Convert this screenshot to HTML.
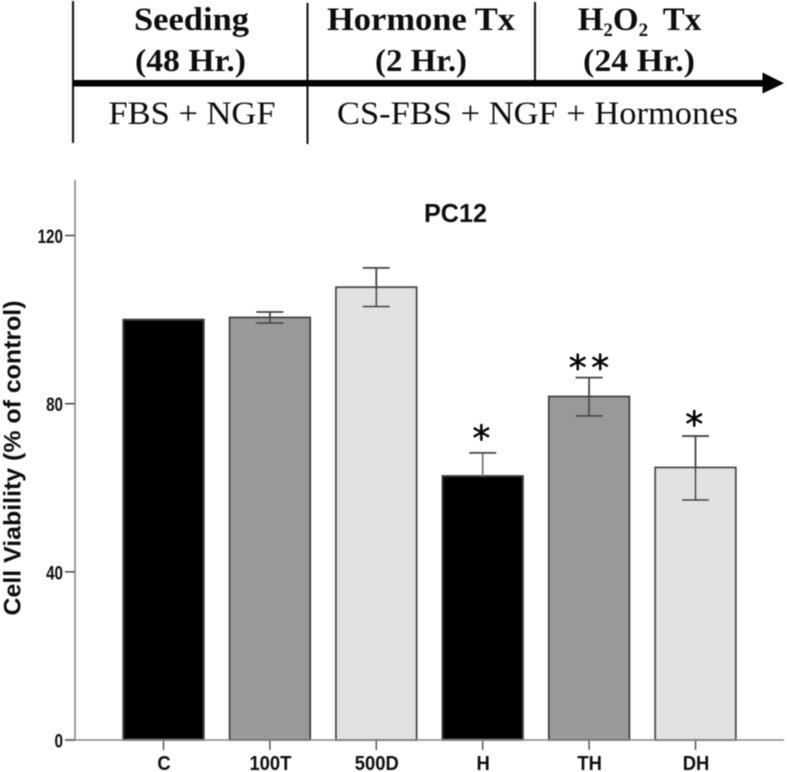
<!DOCTYPE html>
<html>
<head>
<meta charset="utf-8">
<title>PC12 cell viability</title>
<style>
html,body{margin:0;padding:0;background:#fff;}
svg{display:block;}
</style>
</head>
<body>
<svg id="fig" xmlns="http://www.w3.org/2000/svg" width="787" height="772" viewBox="0 0 787 772">
  <defs><filter id="soft" x="-5%" y="-5%" width="110%" height="110%"><feGaussianBlur stdDeviation="0.5"/></filter></defs>
  <rect width="787" height="772" fill="#fff"/>
  <g id="root" filter="url(#soft)">
    <g>
      <line x1="73" y1="1" x2="73" y2="143" stroke="#111" stroke-width="2"/>
      <line x1="307.5" y1="3" x2="307.5" y2="144" stroke="#111" stroke-width="2"/>
      <line x1="535" y1="2" x2="535" y2="80" stroke="#111" stroke-width="2"/>
      <rect x="73" y="80" width="694" height="6.5" fill="#000"/>
      <polygon points="762.5,72.5 784,83.3 762.5,93.5" fill="#000"/>
      <g font-family="'Liberation Serif',serif" fill="#111" text-anchor="middle">
        <text x="191.5" y="30" font-size="33" font-weight="bold" textLength="115" lengthAdjust="spacingAndGlyphs">Seeding</text>
        <text x="190.5" y="71" font-size="32" font-weight="bold" textLength="111" lengthAdjust="spacingAndGlyphs">(48 Hr.)</text>
        <text x="421" y="30" font-size="33" font-weight="bold" textLength="188" lengthAdjust="spacingAndGlyphs">Hormone Tx</text>
        <text x="421" y="71" font-size="32" font-weight="bold" textLength="92" lengthAdjust="spacingAndGlyphs">(2 Hr.)</text>
        <text x="639.5" y="30" font-size="33" font-weight="bold">H<tspan font-size="19" dy="6">2</tspan><tspan dy="-6">O</tspan><tspan font-size="19" dy="6">2</tspan><tspan dy="-6" dx="7"> Tx</tspan></text>
        <text x="639" y="71" font-size="32" font-weight="bold" textLength="112" lengthAdjust="spacingAndGlyphs">(24 Hr.)</text>
        <text x="192" y="124" font-size="33" textLength="167" lengthAdjust="spacingAndGlyphs">FBS + NGF</text>
        <text x="537.5" y="124" font-size="33" textLength="401" lengthAdjust="spacingAndGlyphs">CS-FBS + NGF + Hormones</text>
      </g>
    </g>
    <g id="chart">
      <text x="455.5" y="222" font-family="'Liberation Sans',sans-serif" font-size="26" font-weight="bold" text-anchor="middle" fill="#111" textLength="63" lengthAdjust="spacingAndGlyphs">PC12</text>
      <text transform="translate(20.5,458) rotate(-90)" font-family="'Liberation Sans',sans-serif" font-size="24" font-weight="bold" text-anchor="middle" fill="#111" textLength="315" lengthAdjust="spacingAndGlyphs">Cell Viability (% of control)</text>
    </g>
  </g>
</svg>
<script>
const categories = ['C', '100T', '500D', 'H', 'TH', 'DH'];
const viability = [100, 100.5, 107.7, 62.8, 81.7, 64.8];
const errorHigh = [100, 101.8, 112.3, 68.3, 86.2, 72.3];
const errorLow = [100, 99.2, 103.1, 57.3, 77.1, 57.1];
const significance = ['', '', '', '*', '**', '*'];
const significanceLevel = [0, 0, 0, 73.3, 90, 76.6];
const yTickLabels = [0, 40, 80, 120];
const barColors = ['#000000', '#999999', '#e2e2e2'];

const NS = 'http://www.w3.org/2000/svg';
const chart = document.getElementById('chart');
const yScale = v => 740 - v * 4.204;
const xCenter = i => 163.5 + i * 106.4;
const barWidth = 80.5;

function make(tag, attrs, parent) {
  const el = document.createElementNS(NS, tag);
  for (const k in attrs) el.setAttribute(k, attrs[k]);
  parent.appendChild(el);
  return el;
}

function narrow(el, factor) {
  el.setAttribute('textLength', (el.getComputedTextLength() * factor).toFixed(1));
  el.setAttribute('lengthAdjust', 'spacingAndGlyphs');
}

categories.forEach((cat, i) => {
  const cx = xCenter(i);
  const top = yScale(viability[i]);
  const isBlack = barColors[i % 3] === '#000000';
  const bar = make('rect', {x: cx - barWidth / 2, y: top, width: barWidth, height: 740 - top, fill: barColors[i % 3], stroke: '#3c3c3c', 'stroke-width': 1.8}, chart);
  
  

  if (errorHigh[i] !== errorLow[i]) {
    const hi = yScale(errorHigh[i]);
    const lo = yScale(errorLow[i]);
    const stem = make('line', {x1: cx, x2: cx, y1: hi, y2: isBlack ? top : lo, stroke: isBlack ? '#777' : '#444', 'stroke-width': 1.8}, chart);
    
    
    const capTop = make('line', {x1: cx - 13.5, x2: cx + 13.5, y1: hi, y2: hi, stroke: '#444', 'stroke-width': 1.8}, chart);
    
    
    if (!isBlack) {
      const capLow = make('line', {x1: cx - 13.5, x2: cx + 13.5, y1: lo, y2: lo, stroke: '#444', 'stroke-width': 1.8}, chart);
      
      
    }
  }

  if (significance[i]) {
    const isDouble = significance[i].length > 1;
    const star = make('text', {x: cx + (isDouble ? 2 : -1.3), y: yScale(significanceLevel[i]) + 18.5, 'font-family': "'DejaVu Sans',sans-serif", 'font-size': 36, 'text-anchor': 'middle', fill: '#000', stroke: '#000', 'stroke-width': 0.5, 'letter-spacing': isDouble ? 4.3 : 0}, chart);
    
    
    star.textContent = significance[i];
  }

  const tick = make('line', {x1: cx, x2: cx, y1: 740, y2: 750, stroke: '#555', 'stroke-width': 1.5}, chart);
  
  

  const label = make('text', {x: cx + 0.5, y: 770, 'font-family': "'Liberation Sans',sans-serif", 'font-size': 20, 'font-weight': 'bold', 'text-anchor': 'middle', fill: '#111'}, chart);
  
  
  label.textContent = cat;
  narrow(label, 0.92);
});

const yAxis = make('line', {x1: 75, x2: 75, y1: 180, y2: 740, stroke: '#888', 'stroke-width': 1.6}, chart);



const xAxis = make('line', {x1: 75, x2: 784, y1: 740, y2: 740, stroke: '#888', 'stroke-width': 1.6}, chart);



yTickLabels.forEach(v => {
  const y = yScale(v);
  const tick = make('line', {x1: 65, x2: 75, y1: y, y2: y, stroke: '#444', 'stroke-width': 1.5}, chart);
  
  
  const label = make('text', {x: 63, y: y + 7.5, 'font-family': "'Liberation Sans',sans-serif", 'font-size': 19, 'font-weight': 'bold', 'text-anchor': 'end', fill: '#111'}, chart);
  
  
  label.textContent = v;
  narrow(label, 0.8);
});
</script>
</body>
</html>
